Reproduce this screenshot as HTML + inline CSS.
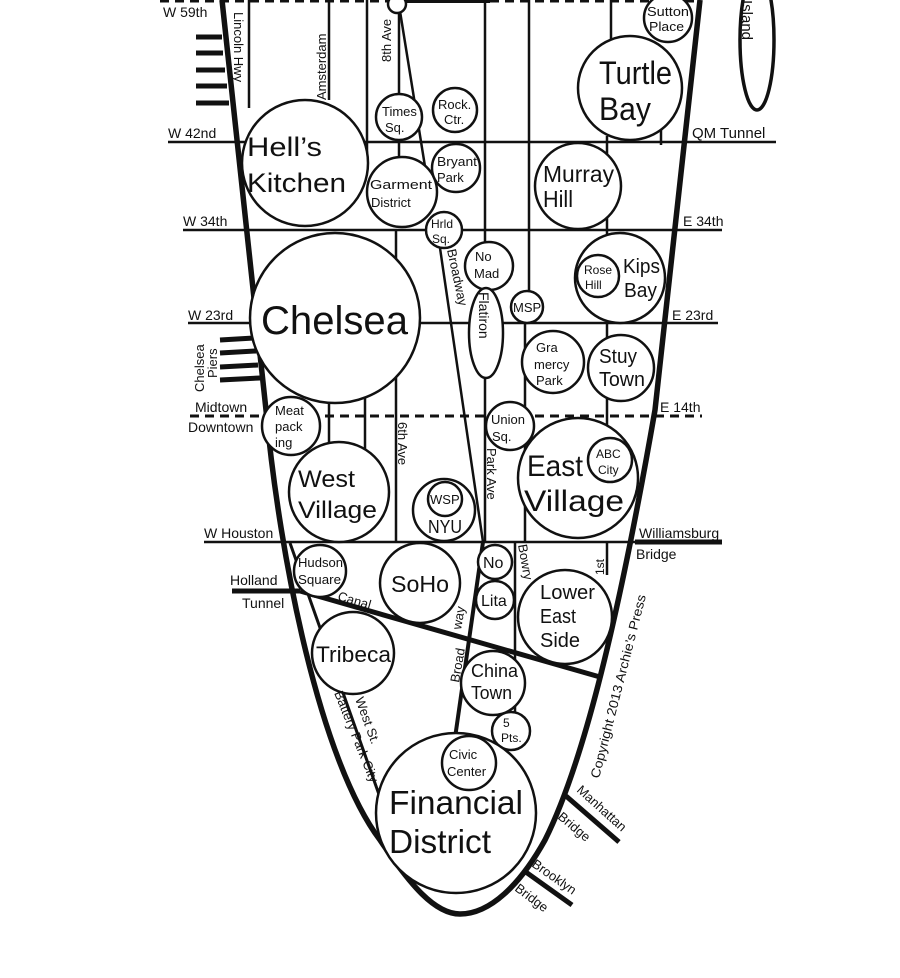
<!DOCTYPE html>
<html><head><meta charset="utf-8"><style>
html,body{margin:0;padding:0;background:#fff;}
svg{display:block;font-family:"Liberation Sans",sans-serif;}
text{fill:#111;}
</style></head><body>
<svg width="900" height="978" viewBox="0 0 900 978" xmlns="http://www.w3.org/2000/svg">
<g stroke="#111" fill="none" stroke-width="2.5">
<line x1="160" y1="1" x2="700" y2="1" stroke-dasharray="9,6" stroke-width="3"/>
<line x1="395" y1="1" x2="490" y2="1" stroke-width="4"/>
<line x1="168" y1="142" x2="776" y2="142"/>
<line x1="183" y1="230" x2="722" y2="230"/>
<line x1="188" y1="323" x2="718" y2="323"/>
<line x1="190" y1="416" x2="702" y2="416" stroke-dasharray="9,6" stroke-width="3"/>
<line x1="204" y1="542" x2="635" y2="542"/>
<line x1="635" y1="542" x2="722" y2="542" stroke-width="5"/>
<line x1="249" y1="0" x2="249" y2="108"/>
<line x1="329" y1="0" x2="329" y2="100"/>
<line x1="329" y1="400" x2="329" y2="445"/>
<line x1="367" y1="0" x2="367" y2="160"/>
<line x1="365" y1="395" x2="365" y2="455"/>
<line x1="399" y1="0" x2="399" y2="95"/>
<line x1="399" y1="140" x2="399" y2="160"/>
<line x1="396" y1="230" x2="396" y2="542"/>
<line x1="485" y1="0" x2="485" y2="542"/>
<line x1="529" y1="0" x2="529" y2="300"/>
<line x1="525" y1="323" x2="525" y2="542"/>
<line x1="611" y1="0" x2="611" y2="40"/>
<line x1="607" y1="136" x2="607" y2="240"/>
<line x1="607" y1="320" x2="607" y2="440"/>
<line x1="661" y1="130" x2="661" y2="145"/>
<line x1="515" y1="542" x2="515" y2="720"/>
<line x1="607" y1="542" x2="607" y2="575"/>
<line x1="399" y1="5" x2="432" y2="210"/>
<line x1="440" y1="248" x2="483" y2="542"/>
<line x1="483" y1="542" x2="455" y2="738" stroke-width="4"/>
<line x1="232" y1="591" x2="300" y2="591" stroke-width="5"/>
<line x1="300" y1="591" x2="600" y2="677" stroke-width="5"/>
<line x1="290" y1="543" x2="382" y2="803" stroke-width="3"/>
<g stroke-width="5">
<line x1="196" y1="37" x2="222" y2="37"/><line x1="196" y1="53" x2="223" y2="53"/><line x1="196" y1="70" x2="225" y2="70"/><line x1="196" y1="86" x2="227" y2="86"/><line x1="196" y1="103" x2="229" y2="103"/>
<line x1="220" y1="340" x2="254" y2="338"/><line x1="220" y1="353" x2="256" y2="351"/><line x1="220" y1="367" x2="258" y2="365"/><line x1="220" y1="380" x2="260" y2="378"/>
<line x1="566" y1="796" x2="619" y2="842"/>
<line x1="523" y1="870" x2="572" y2="905"/>
</g>
<path d="M222,0 L266,410 C280,560 320,760 380,840 C410,885 435,914 460,914 C490,914 520,885 545,840 C580,770 615,640 655,410 L700,0" stroke-width="5.5"/>
<ellipse cx="757" cy="40" rx="17" ry="70" stroke-width="3.5" fill="#fff"/>
</g>
<g stroke="#111" stroke-width="2.5" fill="#fff">
<circle cx="397" cy="4" r="9"/>
<circle cx="668" cy="18" r="24"/>
<circle cx="630" cy="88" r="52"/>
<circle cx="399" cy="117" r="23"/>
<circle cx="455" cy="110" r="22"/>
<circle cx="305" cy="163" r="63"/>
<circle cx="402" cy="192" r="35"/>
<circle cx="456" cy="168" r="24"/>
<circle cx="578" cy="186" r="43"/>
<circle cx="444" cy="230" r="18"/>
<circle cx="489" cy="266" r="24"/>
<circle cx="620" cy="278" r="45"/>
<circle cx="598" cy="276" r="21"/>
<circle cx="527" cy="307" r="16"/>
<circle cx="335" cy="318" r="85"/>
<ellipse cx="486" cy="333" rx="17" ry="45"/>
<circle cx="553" cy="362" r="31"/>
<circle cx="621" cy="368" r="33"/>
<circle cx="291" cy="426" r="29"/>
<circle cx="510" cy="426" r="24"/>
<circle cx="339" cy="492" r="50"/>
<circle cx="578" cy="478" r="60"/>
<circle cx="610" cy="460" r="22"/>
<circle cx="444" cy="510" r="31"/>
<circle cx="445" cy="499" r="17"/>
<circle cx="320" cy="571" r="26"/>
<circle cx="420" cy="583" r="40"/>
<circle cx="495" cy="562" r="17"/>
<circle cx="495" cy="600" r="19"/>
<circle cx="565" cy="617" r="47"/>
<circle cx="353" cy="653" r="41"/>
<circle cx="493" cy="683" r="32"/>
<circle cx="511" cy="731" r="19"/>
<circle cx="456" cy="813" r="80"/>
<circle cx="469" cy="763" r="27"/>
</g>
<g font-size="14">
<text x="163" y="17">W 59th</text>
<text x="168" y="138">W 42nd</text>
<text x="183" y="226">W 34th</text>
<text x="188" y="320">W 23rd</text>
<text x="195" y="412">Midtown</text>
<text x="188" y="432">Downtown</text>
<text x="204" y="538">W Houston</text>
<text x="230" y="585">Holland</text>
<text x="242" y="608">Tunnel</text>
<text x="692" y="138" font-size="15">QM Tunnel</text>
<text x="683" y="226">E 34th</text>
<text x="672" y="320">E 23rd</text>
<text x="660" y="412">E 14th</text>
<text x="639" y="538">Williamsburg</text>
<text x="636" y="559">Bridge</text>
<text x="647" y="16" font-size="13" textLength="42" lengthAdjust="spacingAndGlyphs">Sutton</text>
<text x="649" y="31" font-size="13" textLength="35" lengthAdjust="spacingAndGlyphs">Place</text>
<text x="382" y="116" font-size="13">Times</text>
<text x="385" y="132" font-size="13">Sq.</text>
<text x="438" y="109" font-size="13">Rock.</text>
<text x="444" y="124" font-size="13">Ctr.</text>
<text x="437" y="166" font-size="13" textLength="40" lengthAdjust="spacingAndGlyphs">Bryant</text>
<text x="437" y="182" font-size="13">Park</text>
<text x="370" y="189" font-size="13" textLength="62" lengthAdjust="spacingAndGlyphs">Garment</text>
<text x="371" y="207" font-size="13">District</text>
<text x="431" y="228" font-size="12">Hrld</text>
<text x="432" y="243" font-size="12">Sq.</text>
<text x="475" y="261" font-size="13">No</text>
<text x="474" y="278" font-size="13">Mad</text>
<text x="513" y="312" font-size="13">MSP</text>
<text x="584" y="274" font-size="12">Rose</text>
<text x="585" y="289" font-size="12">Hill</text>
<text x="623" y="273" font-size="20" textLength="37" lengthAdjust="spacingAndGlyphs">Kips</text>
<text x="624" y="297" font-size="20" textLength="33" lengthAdjust="spacingAndGlyphs">Bay</text>
<text x="536" y="352" font-size="13">Gra</text>
<text x="534" y="369" font-size="13">mercy</text>
<text x="536" y="385" font-size="13">Park</text>
<text x="599" y="363" font-size="20" textLength="38" lengthAdjust="spacingAndGlyphs">Stuy</text>
<text x="599" y="386" font-size="20" textLength="46" lengthAdjust="spacingAndGlyphs">Town</text>
<text x="275" y="415" font-size="13">Meat</text>
<text x="275" y="431" font-size="13">pack</text>
<text x="275" y="447" font-size="13">ing</text>
<text x="491" y="424" font-size="13">Union</text>
<text x="492" y="441" font-size="13">Sq.</text>
<text x="596" y="458" font-size="12">ABC</text>
<text x="598" y="474" font-size="12">City</text>
<text x="430" y="504" font-size="13">WSP</text>
<text x="428" y="533" font-size="18" textLength="34" lengthAdjust="spacingAndGlyphs">NYU</text>
<text x="298" y="567" font-size="13" textLength="45" lengthAdjust="spacingAndGlyphs">Hudson</text>
<text x="298" y="584" font-size="13" textLength="43" lengthAdjust="spacingAndGlyphs">Square</text>
<text x="337" y="600" font-size="13" transform="rotate(16 337 600)">Canal</text>
<text x="483" y="568" font-size="16">No</text>
<text x="481" y="606" font-size="16">Lita</text>
<text x="540" y="599" font-size="20" textLength="55" lengthAdjust="spacingAndGlyphs">Lower</text>
<text x="540" y="623" font-size="20" textLength="36" lengthAdjust="spacingAndGlyphs">East</text>
<text x="540" y="647" font-size="20" textLength="40" lengthAdjust="spacingAndGlyphs">Side</text>
<text x="471" y="677" font-size="18" textLength="47" lengthAdjust="spacingAndGlyphs">China</text>
<text x="471" y="699" font-size="18" textLength="41" lengthAdjust="spacingAndGlyphs">Town</text>
<text x="503" y="727" font-size="12">5</text>
<text x="501" y="742" font-size="12">Pts.</text>
<text x="449" y="759" font-size="13">Civic</text>
<text x="447" y="776" font-size="13">Center</text>
<text x="599" y="84" font-size="32" textLength="73" lengthAdjust="spacingAndGlyphs">Turtle</text>
<text x="599" y="120" font-size="32" textLength="52" lengthAdjust="spacingAndGlyphs">Bay</text>
<text x="247" y="156" font-size="27" textLength="75" lengthAdjust="spacingAndGlyphs">Hell’s</text>
<text x="247" y="192" font-size="27" textLength="99" lengthAdjust="spacingAndGlyphs">Kitchen</text>
<text x="543" y="182" font-size="23" textLength="71" lengthAdjust="spacingAndGlyphs">Murray</text>
<text x="543" y="207" font-size="23" textLength="30" lengthAdjust="spacingAndGlyphs">Hill</text>
<text x="261" y="334" font-size="40" textLength="147" lengthAdjust="spacingAndGlyphs">Chelsea</text>
<text x="298" y="487" font-size="24" textLength="57" lengthAdjust="spacingAndGlyphs">West</text>
<text x="298" y="518" font-size="24" textLength="79" lengthAdjust="spacingAndGlyphs">Village</text>
<text x="527" y="476" font-size="30" textLength="56" lengthAdjust="spacingAndGlyphs">East</text>
<text x="524" y="511" font-size="30" textLength="100" lengthAdjust="spacingAndGlyphs">Village</text>
<text x="391" y="592" font-size="23" textLength="58" lengthAdjust="spacingAndGlyphs">SoHo</text>
<text x="316" y="662" font-size="22" textLength="75" lengthAdjust="spacingAndGlyphs">Tribeca</text>
<text x="389" y="814" font-size="33" textLength="134" lengthAdjust="spacingAndGlyphs">Financial</text>
<text x="389" y="853" font-size="33" textLength="102" lengthAdjust="spacingAndGlyphs">District</text>
<text font-size="13" transform="translate(234,12) rotate(90)">Lincoln Hwy</text>
<text font-size="13" transform="translate(326,100) rotate(-90)">Amsterdam</text>
<text font-size="13" transform="translate(391,62) rotate(-90)">8th Ave</text>
<text font-size="13" transform="translate(447,250) rotate(78)">Broadway</text>
<text font-size="14" transform="translate(479,292) rotate(90)">Flatiron</text>
<text font-size="13" transform="translate(398,422) rotate(90)">6th Ave</text>
<text font-size="13" transform="translate(487,448) rotate(90)">Park Ave</text>
<text font-size="13" transform="translate(518,545) rotate(80)">Bowry</text>
<text font-size="12" transform="translate(604,575) rotate(-90)">1st</text>
<text font-size="13" transform="translate(461,630) rotate(-80)">way</text>
<text font-size="13" transform="translate(459,683) rotate(-80)">Broad</text>
<text font-size="13" transform="translate(355,699) rotate(70)">West St.</text>
<text font-size="13" transform="translate(334,693) rotate(68)">Battery Park City</text>
<text font-size="13" transform="translate(204,392) rotate(-90)">Chelsea</text>
<text font-size="13" transform="translate(217,378) rotate(-90)">Piers</text>
<text font-size="13" textLength="189" lengthAdjust="spacingAndGlyphs" transform="translate(599,779) rotate(-75.6)">Copyright 2013 Archie’s Press</text>
<text font-size="13" transform="translate(576,791) rotate(42)">Manhattan</text>
<text font-size="13" transform="translate(557,818) rotate(40)">Bridge</text>
<text font-size="13" transform="translate(531,866) rotate(35)">Brooklyn</text>
<text font-size="13" transform="translate(514,890) rotate(37)">Bridge</text>
<text font-size="15" transform="translate(742,0) rotate(90)">Island</text>
</g>
</svg>
</body></html>
